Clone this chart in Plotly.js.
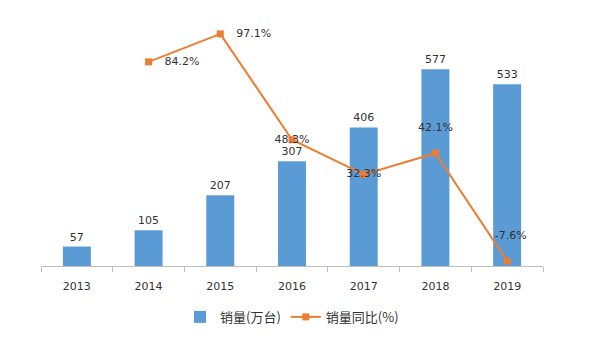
<!DOCTYPE html>
<html><head><meta charset="utf-8">
<script src="https://cdn.plot.ly/plotly-3.0.1.min.js"></script>
<style>html,body{margin:0;padding:0;background:#fff}#c{width:600px;height:351px}</style>
</head><body><div id="c"></div>
<script>
const years = ['2013','2014','2015','2016','2017','2018','2019'];
const sales = [57,105,207,307,406,577,533];
const yoyYears = ['2014','2015','2016','2017','2018','2019'];
const yoy = [84.2,97.1,48.3,32.3,42.1,-7.6];
const yoyLabels = ['   84.2%','   97.1%','48.3%','32.3%','42.1%<br> ','  -7.6%<br> '];
const yoyPos = ['middle right','middle right','middle center','middle center','top center','top center'];

const fontFam = 'Verdana, "DejaVu Sans", "Noto Sans CJK SC", sans-serif';
const traces = [
  {type:'bar', x:years, y:sales, name:'销量(万台)', marker:{color:'#5B9BD5'},
   width:0.39, text:sales.map(String), textposition:'outside', cliponaxis:false,
   textfont:{size:11,color:'#333',family:fontFam}, hoverinfo:'none'},
  {type:'scatter', mode:'lines+markers+text', x:yoyYears, y:yoy, yaxis:'y2', name:'销量同比(%)',
   line:{color:'#ED7D31',width:2}, marker:{symbol:'square',size:7,color:'#ED7D31'},
   text:yoyLabels, textposition:yoyPos, cliponaxis:false,
   textfont:{size:11,color:'#333',family:fontFam}, hoverinfo:'none'}
];
const layout = {
  width:600, height:351,
  margin:{l:41,r:57,t:20,b:85},
  paper_bgcolor:'#fff', plot_bgcolor:'#fff',
  showlegend:true,
  legend:{orientation:'h', x:0.5, xanchor:'center', y:-0.207, yanchor:'middle',
    font:{size:13,color:'#333',family:'"Noto Sans CJK SC", sans-serif'}},
  bargap:0.61,
  xaxis:{type:'category', showline:true, linecolor:'#bfbfbf', linewidth:1,
    ticks:'outside', tickson:'boundaries', ticklen:5, tickcolor:'#bfbfbf',
    ticklabelstandoff:10,
    showgrid:false, zeroline:false,
    tickfont:{size:11,color:'#333',family:fontFam}},
  yaxis:{range:[0,721], visible:false, showgrid:false, zeroline:false},
  yaxis2:{range:[-9.9,103.5], overlaying:'y', side:'right', visible:false, showgrid:false, zeroline:false}
};
Plotly.newPlot('c', traces, layout, {displayModeBar:false, staticPlot:true});
</script></body></html>
